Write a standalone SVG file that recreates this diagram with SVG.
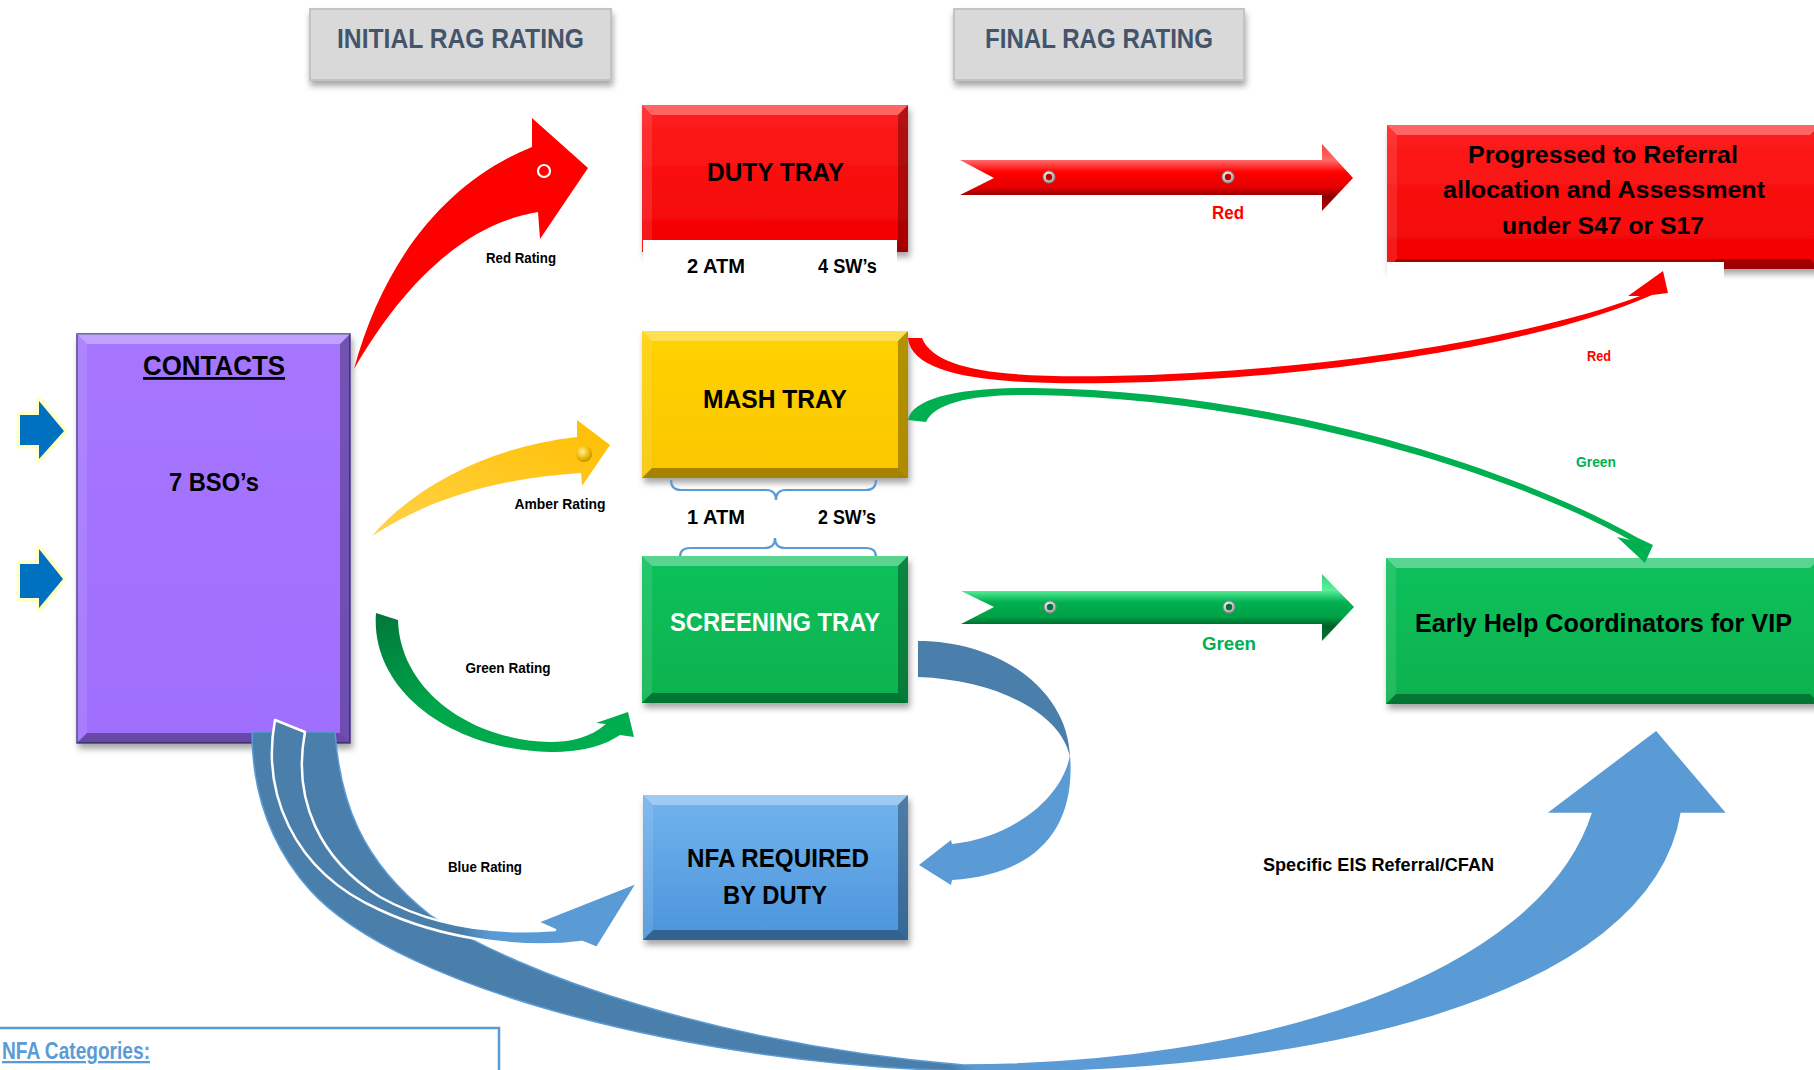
<svg xmlns="http://www.w3.org/2000/svg" width="1814" height="1070" viewBox="0 0 1814 1070">
<defs>
<style>
.t{font-family:"Liberation Sans",Arial,sans-serif;font-weight:bold;text-anchor:middle}
.bt{fill:#fff;fill-opacity:.32}
.bl{fill:#fff;fill-opacity:.1}
.br{fill:#000;fill-opacity:.3}
.bb{fill:#000;fill-opacity:.34}
.brace{fill:none;stroke:#5b9bd5;stroke-width:2.2}
.hdr{fill:#d9d9d9;stroke:#c3c3c3;stroke-width:2}
.bead{fill:url(#gBead);stroke:#8a8a8a;stroke-width:1}
</style>
<filter id="sh" x="-10%" y="-10%" width="125%" height="130%"><feDropShadow dx="2" dy="5" stdDeviation="3" flood-color="#000" flood-opacity="0.35"/></filter>
<filter id="shs" x="-10%" y="-10%" width="125%" height="140%"><feDropShadow dx="1" dy="5" stdDeviation="3" flood-color="#000" flood-opacity="0.35"/></filter>
<linearGradient id="gRed" x1="0" y1="0" x2="0" y2="1"><stop offset="0" stop-color="#ff1e1e"/><stop offset="1" stop-color="#f20000"/></linearGradient>
<linearGradient id="gYel" x1="0" y1="0" x2="0" y2="1"><stop offset="0" stop-color="#ffd200"/><stop offset="1" stop-color="#fac600"/></linearGradient>
<linearGradient id="gGrn" x1="0" y1="0" x2="0" y2="1"><stop offset="0" stop-color="#10c15c"/><stop offset="1" stop-color="#06b24e"/></linearGradient>
<linearGradient id="gNfa" x1="0" y1="0" x2="0" y2="1"><stop offset="0" stop-color="#72b3ee"/><stop offset="1" stop-color="#4b95db"/></linearGradient>
<linearGradient id="gPur" x1="0" y1="0" x2="0" y2="1"><stop offset="0" stop-color="#a676ff"/><stop offset="1" stop-color="#9f6efd"/></linearGradient>
<linearGradient id="gAmb" x1="0" y1="1" x2="1" y2="0"><stop offset="0" stop-color="#ffd24a"/><stop offset="1" stop-color="#ffbf00"/></linearGradient>
<linearGradient id="gGA" x1="0" y1="0" x2="1" y2="1"><stop offset="0" stop-color="#00773a"/><stop offset="0.45" stop-color="#00a64a"/><stop offset="1" stop-color="#00b050"/></linearGradient>
<linearGradient id="gRC" x1="0" y1="0" x2="0" y2="1"><stop offset="0" stop-color="#ff4040"/><stop offset="0.24" stop-color="#ff6a6a"/><stop offset="0.42" stop-color="#ff0000"/><stop offset="0.64" stop-color="#e60000"/><stop offset="0.78" stop-color="#8e0000"/><stop offset="1" stop-color="#b00000"/></linearGradient>
<linearGradient id="gGC" x1="0" y1="0" x2="0" y2="1"><stop offset="0" stop-color="#2fd77a"/><stop offset="0.24" stop-color="#5cf09a"/><stop offset="0.42" stop-color="#00b050"/><stop offset="0.64" stop-color="#00a046"/><stop offset="0.78" stop-color="#00602a"/><stop offset="1" stop-color="#007a36"/></linearGradient>
<linearGradient id="gBig" gradientUnits="userSpaceOnUse" x1="950" y1="0" x2="975" y2="0"><stop offset="0" stop-color="#4a7eab"/><stop offset="1" stop-color="#5b9bd5"/></linearGradient>
<linearGradient id="gBR" gradientUnits="userSpaceOnUse" x1="462" y1="0" x2="492" y2="0"><stop offset="0" stop-color="#4a7eab"/><stop offset="1" stop-color="#5b9bd5"/></linearGradient>
<radialGradient id="gBead" cx="0.4" cy="0.35" r="0.7"><stop offset="0" stop-color="#ffffff"/><stop offset="1" stop-color="#9a9a9a"/></radialGradient>
<radialGradient id="gBall" cx="0.4" cy="0.35" r="0.7"><stop offset="0" stop-color="#fff2a0"/><stop offset="0.6" stop-color="#f0b800"/><stop offset="1" stop-color="#b98a00"/></radialGradient>
</defs>
<rect width="1814" height="1070" fill="#fff"/>

<g id="headers">
<g id="initial-rag" filter="url(#shs)"><rect class="hdr" x="310" y="9" width="301" height="71"/></g>
<text class="t" x="460.5" y="48" font-size="28" fill="#44546a" textLength="247" lengthAdjust="spacingAndGlyphs">INITIAL RAG RATING</text>
<g id="final-rag" filter="url(#shs)"><rect class="hdr" x="954" y="9" width="290" height="71"/></g>
<text class="t" x="1099" y="48" font-size="28" fill="#44546a" textLength="228" lengthAdjust="spacingAndGlyphs">FINAL RAG RATING</text>
</g>

<g id="nodes">
<g id="contacts">
<g filter="url(#sh)"><rect x="77" y="334" width="273" height="409" fill="url(#gPur)" stroke="#4b3c8e" stroke-width="1.5"/></g>
<polygon class="bt" points="77,334 350,334 340,344 87,344"/>
<polygon class="bl" points="77,334 87,344 87,733 77,743"/>
<polygon class="br" points="350,334 350,743 340,733 340,344"/>
<polygon class="bb" points="77,743 350,743 340,733 87,733"/>
<text class="t" x="214" y="375" font-size="28" fill="#000" textLength="142" lengthAdjust="spacingAndGlyphs" text-decoration="underline">CONTACTS</text>
<text class="t" x="214" y="491" font-size="25" fill="#000" textLength="90" lengthAdjust="spacingAndGlyphs">7 BSO’s</text>
</g>

<g id="duty-tray">
<g filter="url(#sh)"><rect x="642" y="105" width="266" height="147" fill="url(#gRed)"/></g>
<polygon class="bt" points="642,105 908,105 898,115 652,115"/>
<polygon class="bl" points="642,105 652,115 652,242 642,252"/>
<polygon class="br" points="908,105 908,252 898,242 898,115"/>
<polygon class="bb" points="642,252 908,252 898,242 652,242"/>
<text class="t" x="775.5" y="181" font-size="25" fill="#000" textLength="137" lengthAdjust="spacingAndGlyphs">DUTY TRAY</text>
<rect x="643" y="240" width="254" height="36" fill="#fff"/>
<text class="t" x="716" y="273" font-size="20" fill="#000" textLength="58" lengthAdjust="spacingAndGlyphs">2 ATM</text>
<text class="t" x="847.5" y="273" font-size="20" fill="#000" textLength="59" lengthAdjust="spacingAndGlyphs">4 SW’s</text>
</g>

<g id="mash-tray">
<g filter="url(#sh)"><rect x="642" y="331" width="266" height="147" fill="url(#gYel)"/></g>
<polygon class="bt" points="642,331 908,331 898,341 652,341"/>
<polygon class="bl" points="642,331 652,341 652,468 642,478"/>
<polygon class="br" points="908,331 908,478 898,468 898,341"/>
<polygon class="bb" points="642,478 908,478 898,468 652,468"/>
<text class="t" x="775" y="408" font-size="25" fill="#000" textLength="144" lengthAdjust="spacingAndGlyphs">MASH TRAY</text>
<path class="brace" d="M671,480 Q671,490 681,490 L766,490 Q776,490 776,500 Q776,490 786,490 L866,490 Q876,490 876,480"/>
<text class="t" x="716" y="524" font-size="20" fill="#000" textLength="58" lengthAdjust="spacingAndGlyphs">1 ATM</text>
<text class="t" x="847" y="524" font-size="20" fill="#000" textLength="58" lengthAdjust="spacingAndGlyphs">2 SW’s</text>
<path class="brace" d="M680,557 Q680,548 690,548 L765,548 Q775,548 775,538 Q775,548 785,548 L866,548 Q876,548 876,557"/>
</g>

<g id="screening-tray">
<g filter="url(#sh)"><rect x="642" y="556" width="266" height="147" fill="url(#gGrn)"/></g>
<polygon class="bt" points="642,556 908,556 898,566 652,566"/>
<polygon class="bl" points="642,556 652,566 652,693 642,703"/>
<polygon class="br" points="908,556 908,703 898,693 898,566"/>
<polygon class="bb" points="642,703 908,703 898,693 652,693"/>
<text class="t" x="775" y="631" font-size="25" fill="#fff" textLength="210" lengthAdjust="spacingAndGlyphs">SCREENING TRAY</text>
</g>

<g id="nfa-required">
<g filter="url(#sh)"><rect x="643" y="795" width="265" height="145" fill="url(#gNfa)"/></g>
<polygon class="bt" points="643,795 908,795 898,805 653,805"/>
<polygon class="bl" points="643,795 653,805 653,930 643,940"/>
<polygon class="br" points="908,795 908,940 898,930 898,805"/>
<polygon class="bb" points="643,940 908,940 898,930 653,930"/>
<text class="t" x="778" y="867" font-size="25" fill="#000" textLength="182" lengthAdjust="spacingAndGlyphs">NFA REQUIRED</text>
<text class="t" x="775" y="904" font-size="25" fill="#000" textLength="104" lengthAdjust="spacingAndGlyphs">BY DUTY</text>
</g>

<g id="progressed-referral">
<g filter="url(#sh)"><rect x="1387" y="125" width="433" height="144" fill="url(#gRed)"/></g>
<polygon class="bt" points="1387,125 1820,125 1810,135 1397,135"/>
<polygon class="bl" points="1387,125 1397,135 1397,259 1387,269"/>
<polygon class="bb" points="1387,269 1820,269 1810,259 1397,259"/>
<text class="t" x="1603" y="163" font-size="24" fill="#000" textLength="270" lengthAdjust="spacingAndGlyphs">Progressed to Referral</text>
<text class="t" x="1604" y="198" font-size="24" fill="#000" textLength="322" lengthAdjust="spacingAndGlyphs">allocation and Assessment</text>
<text class="t" x="1603" y="234" font-size="24" fill="#000" textLength="202" lengthAdjust="spacingAndGlyphs">under S47 or S17</text>
<rect x="1387" y="262" width="337" height="24" fill="#fff"/>
</g>

<g id="early-help">
<g filter="url(#sh)"><rect x="1386" y="558" width="434" height="146" fill="url(#gGrn)"/></g>
<polygon class="bt" points="1386,558 1820,558 1810,568 1396,568"/>
<polygon class="bl" points="1386,558 1396,568 1396,694 1386,704"/>
<polygon class="bb" points="1386,704 1820,704 1810,694 1396,694"/>
<text class="t" x="1603.5" y="632" font-size="25" fill="#000" textLength="377" lengthAdjust="spacingAndGlyphs">Early Help Coordinators for VIP</text>
</g>

<g id="nfa-categories">
<rect x="-10" y="1028" width="509" height="60" fill="#fff" stroke="#5b9bd5" stroke-width="2.5"/>
<text x="2" y="1059" font-family="Liberation Sans, Arial, sans-serif" font-weight="bold" font-size="23" fill="#5b9bd5" textLength="148" lengthAdjust="spacingAndGlyphs" text-decoration="underline">NFA Categories:</text>
</g>
</g>

<g id="connectors">
<g id="input-arrows" fill="#0070c0" stroke="#ffffc6" stroke-width="7" stroke-linejoin="round" paint-order="stroke">
<polygon points="20,415 39,415 39,401 64,431 39,459 39,445 20,445"/>
<polygon points="20,564 39,564 39,549 63,579 39,608 39,598 20,598"/>
</g>

<path id="red-rating-arrow" fill="#ff0000" d="M354,369 C385,255 450,180 532,147 L532,118 L588,168 L540,239 L538,212 C460,225 400,290 354,369 Z"/>
<circle cx="544" cy="171" r="6" fill="none" stroke="#fff" stroke-width="2.2"/>

<path id="amber-rating-arrow" fill="url(#gAmb)" d="M372,536 C420,480 500,445 577,437 L577,420 L610,445 L582,486 L581,473 C500,478 430,498 372,536 Z"/>
<circle cx="584" cy="454" r="8" fill="url(#gBall)"/>

<path id="green-rating-arrow" fill="url(#gGA)" d="M376,613 C370,690 450,750 550,752 C585,752 605,745 620,735 L634,737 L628,712 L596,723 L606,724 C590,738 570,742 550,742 C470,740 400,690 398,620 Z"/>

<path id="eis-arrow" fill="url(#gBig)" stroke="#5b9bd5" stroke-width="1.5" d="M335,732 C340,800 360,860 430,915 C520,975 720,1045 964,1065 C1250,1065 1540,980 1593,812 L1550,812 L1656,732 L1724,812 L1680,812 C1650,1000 1300,1075 964,1071 C700,1065 400,990 310,890 C270,845 252,790 252,732 Z"/>

<path id="blue-rating-arrow" fill="url(#gBR)" stroke="#fff" stroke-width="2.5" stroke-linejoin="round" d="M275,720 C262,790 290,870 380,910 C440,938 520,950 582,942 L597,948 L638,882 L537,922 L555,930 C490,935 430,925 380,897 C320,860 292,800 305,732 Z"/>

<g id="screening-to-nfa">
<path fill="#4a7eab" d="M918,641 C1000,641 1068,690 1070,757 C1062,715 1000,680 918,677 Z"/>
<path fill="#5b9bd5" d="M1070,755 C1076,830 1035,875 952,880 L951,885 L919,865 L951,840 L952,844 C1010,838 1062,800 1070,755 Z"/>
</g>

<g id="duty-to-referral">
<polygon fill="url(#gRC)" points="960,160 1322,160 1322,144 1353,178 1322,211 1322,195 960,195 994,178"/>
<circle class="bead" cx="1049" cy="177" r="6"/><circle cx="1049" cy="177" r="3.2" fill="#c00000"/>
<circle class="bead" cx="1228" cy="177" r="6"/><circle cx="1228" cy="177" r="3.2" fill="#c00000"/>
</g>

<g id="screening-to-earlyhelp">
<polygon fill="url(#gGC)" points="961,591 1322,591 1322,574 1354,607 1322,641 1322,624 961,624 994,607"/>
<circle class="bead" cx="1050" cy="607" r="6"/><circle cx="1050" cy="607" r="3.2" fill="#00703a"/>
<circle class="bead" cx="1229" cy="607" r="6"/><circle cx="1229" cy="607" r="3.2" fill="#00703a"/>
</g>

<path id="mash-to-referral" fill="#ff0000" d="M908,338 C912,378 1000,385 1110,383 C1320,379 1540,345 1652,295 L1668,293 L1663,271 L1628,296 L1640,296 C1530,338 1320,372 1110,376 C1000,378 935,370 922,338 Z"/>

<path id="mash-to-earlyhelp" fill="#00b050" d="M908,420 C912,398 960,387 1033,388 C1250,390 1490,455 1638,538 L1653,545 L1645,563 L1617,537 L1630,540 C1490,462 1250,398 1033,395 C975,394 935,402 926,422 Z"/>
</g>

<g id="labels">
<text class="t" x="521" y="263" font-size="15" fill="#000" textLength="70" lengthAdjust="spacingAndGlyphs">Red Rating</text>
<text class="t" x="560" y="509" font-size="15" fill="#000" textLength="91" lengthAdjust="spacingAndGlyphs">Amber Rating</text>
<text class="t" x="508" y="673" font-size="15" fill="#000" textLength="85" lengthAdjust="spacingAndGlyphs">Green Rating</text>
<text class="t" x="485" y="872" font-size="15" fill="#000" textLength="74" lengthAdjust="spacingAndGlyphs">Blue Rating</text>
<text class="t" x="1228" y="219" font-size="19" fill="#ff0000" textLength="32" lengthAdjust="spacingAndGlyphs">Red</text>
<text class="t" x="1229" y="650" font-size="19" fill="#00b050" textLength="54" lengthAdjust="spacingAndGlyphs">Green</text>
<text class="t" x="1599" y="361" font-size="15" fill="#ff0000" textLength="24" lengthAdjust="spacingAndGlyphs">Red</text>
<text class="t" x="1596" y="467" font-size="15" fill="#00b050" textLength="40" lengthAdjust="spacingAndGlyphs">Green</text>
<text class="t" x="1378.5" y="871" font-size="19" fill="#000" textLength="231" lengthAdjust="spacingAndGlyphs">Specific EIS Referral/CFAN</text>
</g>
</svg>
